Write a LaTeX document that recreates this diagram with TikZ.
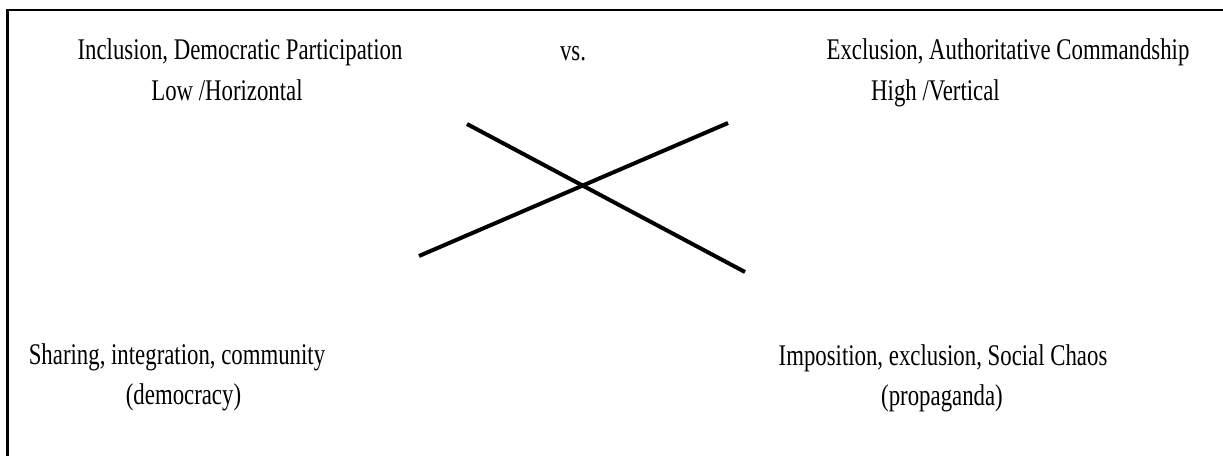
\documentclass[tikz,border=0pt]{standalone}
\usepackage{fontspec}
\setmainfont[FakeStretch=0.76]{Liberation Serif}
\begin{document}
\begin{tikzpicture}[x=1pt,y=-1pt,
  lbl/.style={anchor=base,inner sep=0pt,font=\fontsize{30}{36}\selectfont},
  frame/.style={line width=2.5pt,black},
  cross/.style={line width=4pt,black}]
\useasboundingbox (0,0) rectangle (1223,456);
\fill[white] (0,0) rectangle (1223,456);
% frame (top and left edges visible)
\coordinate (fa) at (1223,10);
\coordinate (fb) at (7.5,10);
\coordinate (fc) at (7.5,456);
\draw[frame] (fa) -- (fb) -- (fc);
% texts
\node[lbl] (l1) at (240,59) {Inclusion, Democratic Participation};
\node[lbl] (l2) at (227,100) {Low /Horizontal};
\node[lbl] (vs) at (573,60) {vs.};
\node[lbl] (r1) at (1008,59) {Exclusion, Authoritative Commandship};
\node[lbl] (r2) at (935.5,100) {High /Vertical};
\node[lbl] (bl1) at (177,364) {Sharing, integration, community};
\node[lbl] (bl2) at (183.5,404) {(democracy)};
\node[lbl] (br1) at (943,365) {Imposition, exclusion, Social Chaos};
\node[lbl] (br2) at (942,405) {(propaganda)};
% cross
\coordinate (c1a) at (467,124);
\coordinate (c1b) at (745,272);
\coordinate (c2a) at (419,256);
\coordinate (c2b) at (728,123);
\draw[cross] (c1a) -- (c1b);
\draw[cross] (c2a) -- (c2b);
\end{tikzpicture}
\end{document}
